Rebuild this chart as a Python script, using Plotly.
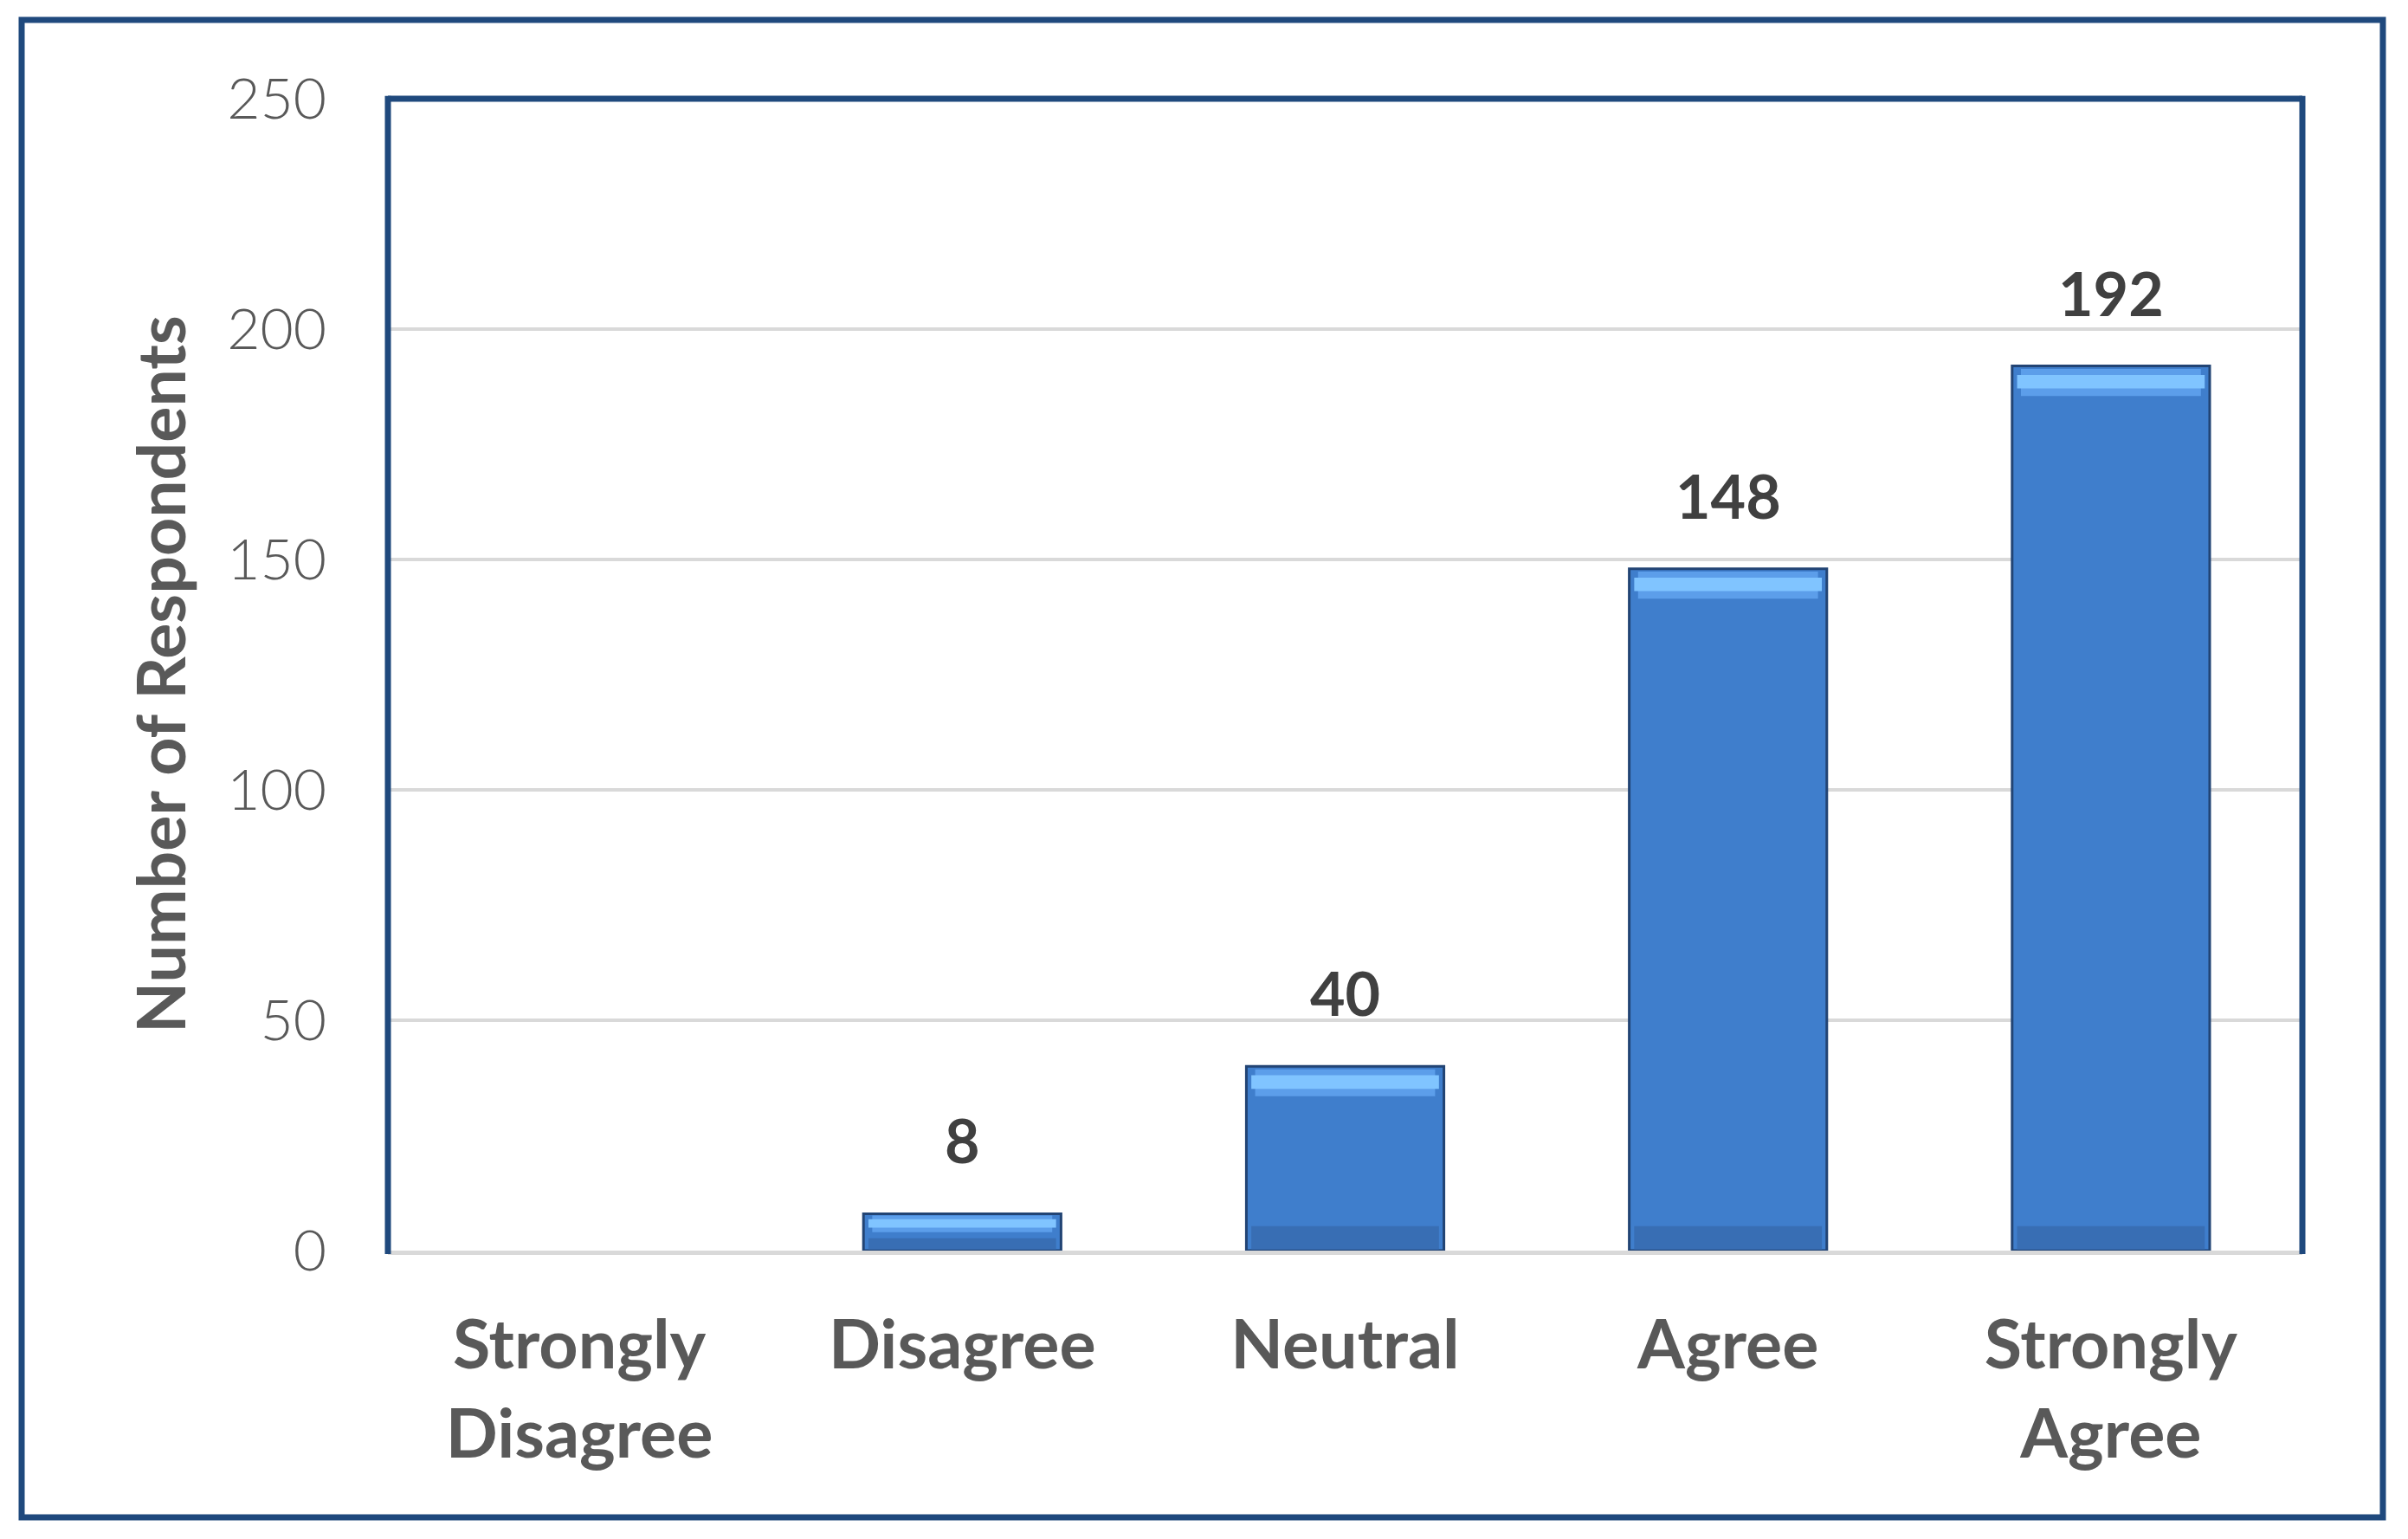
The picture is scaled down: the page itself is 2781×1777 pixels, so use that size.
import plotly.graph_objects as go

categories = ["Strongly Disagree", "Disagree", "Neutral", "Agree", "Strongly Agree"]
tick_labels = ["Strongly<br>Disagree", "Disagree", "Neutral", "Agree", "Strongly<br>Agree"]
respondents = [0, 8, 40, 148, 192]
y_ticks = [0, 50, 100, 150, 200, 250]
y_title = "Number of Respondents"

OFF = 8  # page body margin in the browser
W, H = 2781 - 2 * OFF, 1777 - 2 * OFF
PL, PT, PR, PB = 448, 114, 2659, 1444  # plot area in page pixels
L, T = PL - OFF, PT - OFF
R, B = W - (PR - OFF), H - (PB - OFF)
pw, ph = W - L - R, H - T - B


def px_x(xpage):
    return (xpage - OFF - L) / pw


def px_y(ypage):
    return (H - B - (ypage - OFF)) / ph


NAVY = "rgb(31,73,125)"
GRID = "rgb(217,217,217)"
TXT = "rgb(89,89,89)"
LBL = "rgb(64,64,64)"

fig = go.Figure()
# main bar body
fig.add_trace(go.Bar(
    x=categories, y=respondents, width=0.516,
    marker=dict(color="rgb(63,126,204)",
                line=dict(color="rgb(34,68,116)", width=[0 if v == 0 else 3 for v in respondents])),
    hoverinfo="skip",
))
# darker lower shading (derived from values)
bot_h = [min(5.0, v * 0.3) for v in respondents]
fig.add_trace(go.Bar(
    x=categories, y=bot_h, base=[0.3 if v > 0 else 0 for v in respondents], width=0.49,
    marker=dict(color="rgb(56,110,180)", line=dict(width=0)),
    hoverinfo="skip",
))
# top bevel (derived from values)
top_h = [min(6.5, v * 0.5) for v in respondents]
fig.add_trace(go.Bar(
    x=categories, y=[h * 0.9 for h in top_h], base=[v - h for v, h in zip(respondents, top_h)],
    width=0.47,
    marker=dict(color="rgb(92,158,234)", line=dict(width=0)),
    hoverinfo="skip",
))
hi_h = [h * 0.45 for h in top_h]
fig.add_trace(go.Bar(
    x=categories, y=hi_h, base=[v - h * 0.75 for v, h in zip(respondents, top_h)],
    width=0.49,
    marker=dict(color="rgb(128,196,255)", line=dict(width=0)),
    hoverinfo="skip",
))

for c, v in zip(categories, respondents):
    if v > 0:
        fig.add_annotation(x=c, y=v, text=f"<b>{v}</b>", showarrow=False,
                           yanchor="bottom", yshift=41,
                           font=dict(family="Lato", size=70, color=LBL))

fig.add_annotation(xref="paper", yref="paper", x=px_x(184), y=0.5,
                   text=f"<b>{y_title}</b>", textangle=-90, showarrow=False,
                   xanchor="center", yanchor="middle",
                   font=dict(family="Lato", size=77, color=TXT))

# plot-area border (top, left, right)
for x0, y0, x1, y1 in [(0, 1, 1, 1), (0, -0.003, 0, 1.0025), (1, -0.003, 1, 1.0025)]:
    fig.add_shape(type="line", xref="paper", yref="paper", x0=x0, y0=y0, x1=x1, y1=y1,
                  line=dict(color=NAVY, width=7), layer="above")

# outer frame
fig.add_shape(type="rect", xref="paper", yref="paper",
              x0=px_x(25), x1=px_x(2752), y0=px_y(1752), y1=px_y(23),
              line=dict(color=NAVY, width=7), fillcolor="rgba(0,0,0,0)", layer="above")

fig.update_layout(
    width=W, height=H,
    margin=dict(l=L, r=R, t=T, b=B),
    paper_bgcolor="white", plot_bgcolor="white",
    barmode="overlay", showlegend=False,
    font=dict(family="Lato", color=TXT),
)
fig.update_xaxes(
    tickmode="array", tickvals=categories, ticktext=[f"<b>{t}</b>" for t in tick_labels],
    tickfont=dict(family="Lato", size=79, color=TXT),
    showline=True, linecolor=GRID, linewidth=5, ticks="", showgrid=False,
    ticklabelstandoff=36,
)
fig.update_yaxes(
    range=[0, 250], tickmode="array", tickvals=y_ticks,
    tickfont=dict(family="Lato", size=66, color=TXT, weight=300),
    showgrid=True, gridcolor=GRID, gridwidth=4, zeroline=False, showline=False,
    ticks="", ticklabelstandoff=70,
)

fig.write_html("out.html")
